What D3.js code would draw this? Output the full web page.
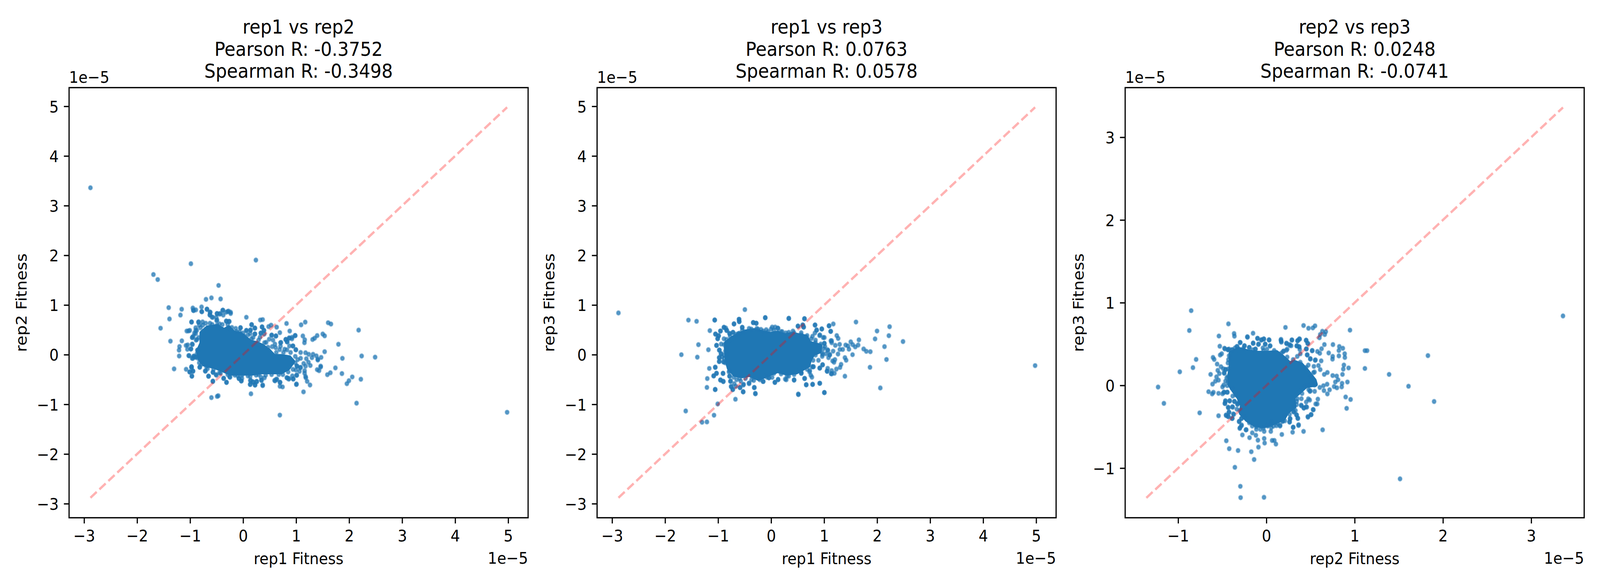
<!DOCTYPE html>
<html><head><meta charset="utf-8">
<script src="https://cdnjs.cloudflare.com/ajax/libs/d3/7.8.5/d3.min.js"></script>
<style>html,body{margin:0;padding:0;background:#fff;overflow:hidden}svg{display:block;width:100vw;height:100vh}text{font-family:"DejaVu Sans";fill:#000}</style>
</head><body><svg id="c" viewBox="0 0 4500 1500" preserveAspectRatio="none"></svg>
<script>
// All values are in units of 1e-5.
const titles = [
  ["rep1 vs rep2","Pearson R: -0.3752","Spearman R: -0.3498"],
  ["rep1 vs rep3","Pearson R: 0.0763","Spearman R: 0.0578"],
  ["rep2 vs rep3","Pearson R: 0.0248","Spearman R: -0.0741"]
];
const xLabels = ["rep1 Fitness","rep1 Fitness","rep2 Fitness"];
const yLabels = ["rep2 Fitness","rep3 Fitness","rep3 Fitness"];
const ticksWide = [-3,-2,-1,0,1,2,3,4,5];
const ticksNarrow = [-1,0,1,2,3];
const offsetLabel = "1e\u22125";
const wideDomain = [-3.283,5.376];
const narrowDomain = [-1.6,3.6];
const diagWide = [-2.88,4.98];
const diagNarrow = [-1.36,3.36];

// Individually legible points, read one by one.
const points12 = [[-2.88,3.36],[4.98,-1.16],[-1.692,1.614],[-1.611,1.512],[-.985,1.831],[.241,1.904],[-.463,1.394],[-.7,1.114],[-.598,1.143],[-.425,1.122],[-1.404,.947],[-1.159,.915],[-1.182,.798],[-1.389,.719],[-1.557,.533],[-1.371,.272],[-1.156,.279],[-.949,.939],[-.934,.887],[-.892,.902],[-.784,.96],[-.778,.863],[-.682,.918],[-.619,.855],[-.628,.798],[-.589,.756],[-.505,.75],[-.493,.824],[-.44,.816],[-.386,.894],[-.374,.798],[-.32,.855],[-.275,.876],[-.236,.855],[-.5,.685],[-.973,.656],[-.844,.654],[-.32,.677],[-.26,.667],[.061,.753],[.324,.698],[.369,.706],[.16,.604],[-.05,.541],[.22,.536],[.357,.557],[.48,.565],[.528,.594],[.633,.554],[.819,.628],[1.094,.601],[1.172,.656],[1.604,.643],[1.657,.617],[2.179,.494],[.879,.476],[1.798,.209],[.693,.444],[.22,.416],[.393,.489],[.399,.416],[.333,.436],[.139,.494],[.061,.484],[.54,.395],[.618,.376],[.98,.384],[.923,.35],[.867,.337],[.804,.306],[.834,.259],[1.127,.376],[1.163,.3],[1.157,.24],[1.31,.306],[1.349,.332],[1.397,.384],[1.502,.416],[1.538,.379],[.714,.246],[.939,.175],[.993,.102],[1.178,.039],[1.238,.007],[1.319,.007],[1.382,-.024],[1.298,-.061],[1.472,-.055],[1.538,.06],[1.873,-.074],[2.236,-.027],[2.49,-.05],[1.409,-.092],[1.409,-.108],[1.463,-.231],[1.463,-.249],[1.741,-.267],[1.646,-.364],[1.589,-.403],[1.864,-.38],[2.059,-.448],[2.221,-.495],[1.996,-.524],[1.957,-.584],[2.14,-.976],[1.397,-.301],[1.433,-.322],[1.268,-.218],[1.232,-.152],[1.193,-.082],[1.142,-.178],[1.178,-.231],[1.079,-.26],[1.013,-.231],[1.16,-.322],[1.16,-.375],[1.178,-.44],[1.184,-.466],[1.208,-.537],[1.262,-.61],[1.004,-.6],[1.139,-.749],[1.013,-.414],[.945,-.484],[.864,-.479],[.825,-.464],[.744,-.649],[.699,-.558],[.603,-.526],[.639,-.5],[.693,-1.217],[.369,-.623],[.345,-.511],[.226,-.61],[.256,-.537],[.133,-.6],[.145,-.518],[.187,-.55],[.148,-.788],[-.035,-.526],[-.08,-.479],[-.314,-.558],[-.571,-.539],[-.652,-.435],[-.598,-.864],[-.49,-.84],[-.469,-.827],[-.967,-.432],[-.946,-.333],[-1.009,-.348],[-1.075,-.294],[-.973,-.244],[-.973,-.265],[-1.302,-.286],[-.82,-.252],[-.709,-.33],[-.568,-.356],[-.514,-.401],[-.365,-.474],[-.254,-.448],[-1.209,.091],[-1.2,.164],[-1.206,-.027],[-1.027,-.019],[-1.078,.185],[-1.045,.196],[-1.051,.109],[-.985,.112],[-.955,.206],[-.949,-.074],[-.931,-.029],[-.898,-.05],[-1.063,.476],[-1.03,.478],[-1.006,.489],[-.919,.436],[-.955,.347],[-.874,.489],[-.859,.089],[-.889,.293],
[-.973,.659],[-.839,.659],[-.765,.659],[-.705,.633],[-.626,.633],[-.761,.594],[-.895,.489],[-.94,.371],[-.872,.306],[-.962,.214],[-.984,.118],[-.861,.092],[-.928,-.034],[-.962,-.073],[-.895,-.047],[-1.018,-.021],[-.492,.594],[-.391,.607],[-.313,.672],[-.268,.672],[-.212,.547],[-.139,.528],[-.049,.542],[-.067,.463],[.063,.489],[.139,.494],[.161,.602],[.224,.534],[.224,.419],[.09,.398],[.157,.319],[.336,.432],[.392,.489],[.358,.56],[.318,.351],[.436,.249],[.492,.311],[.537,.39],[.62,.377],[.564,.293],[.6,.214],[.548,.162],[.615,.141],[.705,.241],[.689,.102],[.705,.17],[.805,.306],[.873,.332],[.828,.259],[.922,.319],[.984,.385],[.873,.175],[.94,.175],[.996,.097],[1.085,.044],[1.085,-.073],[1.029,-.099],[.828,.097],[.783,.11],[1.018,-.23],[.996,-.309],[1.085,-.256],[1.063,-.335],[.929,-.427],[1.007,-.413],[.946,-.492],[.861,-.492],[.828,-.466],[.75,-.4],[.626,-.492],[.593,-.518],[.694,-.557],[.347,-.518],[.336,-.453],[.403,-.466],[.246,-.413],[.257,-.544],[.134,-.44],[.134,-.518],[.19,-.552],[-.022,-.479],[-.078,-.479],[-.033,-.531],[-.101,-.427],[-.246,-.453],[-.369,-.479],[-.313,-.557],[-.503,-.413],[-.57,-.353],[-.653,-.432],[-.716,-.33],[-.816,-.251],[-.973,-.243],[-.944,-.33],[-1.007,-.348],[-.966,-.432],[-.57,-.531],[-.425,-.374],[-.671,-.283],[.369,-.61],[.134,-.597],[.224,-.61],[1.007,-.591],[.694,-.636],[-.94,.895],[-.783,.869],[-.682,.913],[-.626,.856],[-.492,.829],[-.38,.895],[-.291,.869],[-.235,.829],[-.57,.751],[-.492,.699],[-.626,.803],[-.436,.829],
[-.895,.424],[-.839,.345],[-.895,.542],[-.805,.542],[-.962,.345],[-.828,.594],[-.582,.607],[-.447,.62],[-.291,.607],[-.123,.463],[0,.437],[.022,.371],[.134,.424],[.19,.345],[.291,.293],[.403,.241],[.47,.149],[.626,.044],[.761,.044],[.895,.044],[.984,-.034],[.984,-.165],[.94,-.296],[.85,-.348],[.671,-.4],[.537,-.4],[.425,-.413],[.291,-.4],[.09,-.427],[-.022,-.413],[-.157,-.413],[-.291,-.4],[-.447,-.361],[-.559,-.296],[-.693,-.243],[-.783,-.191],[-.828,-.165],[-.872,.018],[-.85,-.073]];

const points13 = [[-2.88,.84],[4.98,-.22],[-1.56,.696],[-1.406,.672],[-1.063,.696],[-.495,.908],[-.111,.746],[.334,.73],[.629,.722],[-.604,.712],[-.601,.665],[-.7,.618],[-.337,.646],[-.279,.633],[-.543,.549],[-.889,.549],[-.854,.536],[-.834,.489],[-1.156,.484],[-.954,.476],[-1.05,.413],[-.988,.379],[-1.008,.319],[-.721,.447],[-.782,.421],[-1.371,.201],[-1.029,.186],[-1.183,.099],[-1.693,0],[-1.392,-.05],[-.978,.092],[-.947,.018],[-.981,-.06],[-.981,-.139],[-.895,-.147],[-.923,-.047],[-1.166,-.277],[-1.053,-.256],[-1.029,-.377],[-1.084,-.426],[-.906,-.379],[-1.204,-.481],[-.954,-.51],[-.902,-.542],[-1.211,-.659],[-1.056,-.701],[-.769,-.536],[-.782,-.434],[-.755,-.636],[-.724,-.701],[-.666,-.636],[-.587,-.662],[-.519,-.596],[-.416,-.583],[-.526,-.748],[-.32,-.662],[-.296,-.788],[-.673,-.897],[-1.008,-.992],[-1.611,-1.133],[-1.077,-1.219],[-1.303,-1.36],[-1.211,-1.353],[.515,-.803],[1.005,-.764],[.663,-.607],[.783,-.599],[.92,-.576],[1.392,-.434],[2.06,-.67],[1.865,-.254],[2.176,-.097],[2.139,.162],[2.488,.264],[2.221,.382],[2.235,.563],[1.998,.476],[1.961,.317],[1.601,.657],[1.872,.06],[1.796,.068],[1.745,.115],[1.656,.298],[1.642,.194],[1.587,.157],[1.539,.201],[1.502,.259],[1.45,.175],[1.468,.11],[1.406,.194],[1.536,0],[1.392,-.06],[1.416,-.112],[1.32,-.196],[1.3,-.256],[1.231,-.29],[1.194,-.374],[1.142,-.387],[1.142,-.322],[1.057,-.335],[1.067,-.275],[1.262,.013],[1.351,.105],[1.296,.105],[1.293,.207],[1.265,.327],[1.238,.385],[1.173,.618],[1.091,.581],[1.125,.471],[.957,.515],[.858,.497],[.827,.594],[.615,.555],[.505,.576],[.594,.599],[1.142,.28],[1.142,.241],[1.211,.188],[1.17,.071],[1.187,-.152],[1.204,-.099],[1.159,-.126],[1.108,.005],[.964,-.034],[.971,-.204],[.92,-.269],[.8,-.243],[.731,-.322],[.748,-.413],[.629,-.479],[.57,-.374],[.433,-.51],[.286,-.505],[.132,-.505],[.07,-.557],[-.152,-.539],[-.039,-.466],[1.005,.345],[.92,.398],[1.005,.228],[1.067,.097],
[-1.065,.699],[-.7,.62],[-.606,.712],[-.602,.667],[-.338,.646],[-.282,.633],[-.11,.743],[.333,.73],[.629,.725],[.83,.599],[1.094,.581],[1.123,.468],[.955,.521],[.859,.494],[.508,.573],[.602,.594],[.613,.555],[.02,.555],[.076,.555],[.125,.536],[-.002,.515],[-.092,.502],[-.192,.508],[-.248,.515],[-.416,.528],[-.546,.549],[-.546,.489],[-.602,.429],[-.718,.45],[-.785,.429],[-.841,.489],[-.89,.549],[-.957,.476],[-1.049,.416],[-.993,.385],[-1.009,.327],[-.89,.319],[-1.031,.188],[-.942,.214],[-.975,.092],[-.942,.018],[-.852,.136],[-.841,.005],[-.975,-.06],[-.886,-.073],[-.975,-.134],[-.897,-.144],[-1.054,-.251],[-1.031,-.374],[-.908,-.374],[-1.083,-.427],[-.957,-.51],[-.902,-.536],[-.785,-.322],[-.785,-.432],[-.763,-.531],[-.752,-.649],[-.696,-.584],[-.651,-.505],[-.573,-.531],[-.584,-.662],[-.524,-.61],[-.416,-.57],[-.327,-.518],[-.315,-.662],[-.528,-.746],[-.723,-.701],[-.148,-.539],[-.043,-.466],[.02,-.458],[.072,-.557],[.132,-.497],[.266,-.492],[.333,-.432],[.434,-.51],[.568,-.374],[.635,-.479],[.77,-.453],[.792,-.243],[.725,-.348],[.662,-.605],[.783,-.597],[.915,-.576],[1.054,-.33],[1.132,-.38],[.971,-.204],[.915,-.27],[.893,-.113],[.971,.005],[1.034,.018],[1.105,-.008],[1.083,-.06],[1.072,.084],[1.016,.162],[1.004,.228],[1.127,.28],[.982,.345],[.915,.385],[.826,.437],[.781,.371],[.837,.293],[.568,.442],[.412,.476],[.333,.45],[.21,.463],[.132,.528],[-1.054,-.701],[1.004,-.761],[.512,-.793],[-.298,-.78],
[-.886,.201],[-.841,.306],[-.774,.371],[-.662,.411],[-.617,.424],[-.506,.463],[-.371,.515],[-.271,.528],[-.148,.476],[-.058,.463],[.054,.489],[.188,.463],[.277,.437],[.434,.437],[.568,.398],[.68,.385],[.758,.319],[.837,.241],[.937,.214],[.993,.123],[.96,.044],[.837,-.008],[.792,-.113],[.77,-.243],[.68,-.296],[.568,-.348],[.434,-.4],[.3,-.427],[.188,-.387],[.054,-.374],[-.081,-.453],[-.215,-.505],[-.371,-.505],[-.483,-.479],[-.595,-.479],[-.707,-.453],[-.796,-.348],[-.864,-.165],[-.886,-.008],[-.864,.071]];

const points23 = [[3.36,.84],[-.852,.904],[-.873,.664],[-.43,.744],[-.796,.314],[-.832,.215],[-.981,.164],[-1.227,-.02],[-1.161,-.217],[-.756,-.332],[-.542,-.367],[-.454,-.669],[-.421,-.765],[-.321,-.787],[-.357,-.99],[-.295,-1.22],[-.292,-1.357],[-.027,-1.353],[1.514,-1.13],[1.83,.36],[1.9,-.195],[1.61,-.01],[-.139,-.896],[-.171,-.802],[-.09,-.746],[-.02,-.697],[.108,-.709],[.065,-.666],[.09,-.666],[-.025,-.642],[-.096,-.662],[-.119,-.603],[-.191,-.632],[-.16,-.574],[-.272,-.599],[-.232,-.537],[-.299,-.511],[-.308,-.433],[-.281,-.478],[-.281,-.398],[-.385,-.398],[-.434,-.375],[-.457,-.357],[-.375,-.345],[-.425,-.322],[-.434,-.263],[-.385,-.258],[-.465,-.185],[-.416,-.185],[-.362,-.193],[-.47,-.219],[-.326,-.228],[-.655,-.076],[-.614,-.103],[-.6,-.084],[-.542,-.096],[-.497,-.101],[-.483,-.082],[-.443,-.082],[-.497,-.019],[-.61,.016],[-.578,.051],[-.542,.064],[-.632,.133],[-.565,.103],[-.533,.143],[-.551,.182],[-.479,.152],[-.488,.201],[-.461,.191],[-.515,.226],[-.558,.258],[-.591,.314],[-.605,.338],[-.524,.367],[-.506,.383],[-.528,.474],[-.538,.597],[-.366,.627],[-.475,.449],[-.434,.435],[-.389,.431],[-.299,.519],[-.249,.48],[-.335,.47],[-.216,.588],[-.151,.631],[-.101,.57],[-.056,.552],[-.029,.562],[.029,.552],[-.15,.513],[-.088,.5],[-.014,.5],[.043,.478],[-.194,.459],[-.124,.439],[.216,.701],[.421,.724],[.477,.691],[.526,.695],[.551,.72],[.634,.654],[.673,.65],[.661,.615],[.61,.615],[.601,.576],[.164,.547],[.169,.523],[.288,.55],[.373,.562],[.353,.541],[.45,.547],[.466,.51],[.227,.51],[.259,.494],[.281,.48],[.346,.48],[.373,.465],[.196,.416],[.227,.425],[.378,.435],[.454,.441],[.52,.422],[.578,.41],[.605,.388],[.625,.443],[.657,.494],[.754,.494],[.947,.668],[.826,.47],[.866,.449],[.821,.422],[.887,.383],[.889,.338],[.821,.357],[.706,.392],[.751,.351],[.749,.318],[.461,.371],[.497,.324],[.556,.308],[.621,.297],[1.116,.42],[1.141,.42],[1.116,.205],[1.39,.133],[.878,.246],[.931,.211],[.871,.197],[.862,.133],[.796,.113],[.751,.119],[.812,.068],[.781,.041],[.857,.025],[.918,.041],[.853,-.018],[.799,-.029],[.767,-.014],[.688,.014],[.716,-.053],[.646,-.004],[.652,-.062],[.691,-.103],[.605,-.025],[.898,-.14],[.954,-.17],[.909,-.277],[.583,-.166],[.576,-.224],[.529,-.291],[.508,-.353],[.47,-.377],[.45,-.258],[.425,-.271],[.394,-.238],[.637,-.537],[.421,-.556],[.297,-.566],[.304,-.505],[.365,-.476],[.355,-.394],[.34,-.355],[.308,-.316],[.263,-.439],[.268,-.4],[.175,-.593],[.05,-.556],[-.025,-.556],[.056,-.511],[.016,-.482],[.115,-.486],[.155,-.482],[.187,-.429],[-.068,-.531],[.655,.133],[.691,.156],[.61,.191],[.538,.23],[.475,.246],[.59,.24],[.493,-.072],[.547,-.072],[.475,-.163],
[-.47,.442],[-.436,.43],[-.387,.43],[-.423,.359],[-.436,.272],[-.463,.193],[-.477,.146],[-.45,.091],[-.463,.052],[-.483,.005],[-.443,-.003],[-.477,-.082],[-.443,-.082],[-.382,-.129],[-.463,-.192],[-.416,-.188],[-.362,-.195],[-.47,-.216],[-.329,-.224],[-.43,-.271],[-.382,-.263],[-.335,-.287],[-.423,-.326],[-.456,-.365],[-.43,-.378],[-.369,-.35],[-.389,-.4],[-.309,-.439],[-.282,-.4],[-.282,-.488],[-.302,-.52],[-.228,-.536],[-.161,-.491],[-.114,-.531],[.014,-.491],[.081,-.491],[.155,-.491],[.061,-.436],[.182,-.436],[.209,-.365],[.31,-.321],[.343,-.358],[.357,-.4],[.263,-.444],[.303,-.507],[.364,-.484],[.269,-.405],[.397,-.247],[.458,-.263],[.424,-.274],[.343,-.232],[.316,-.255],[.532,-.295],[.505,-.354],[.471,-.384],[.558,-.224],[.491,-.177],[.451,-.2],[.397,-.161],[.35,-.161],[.437,-.003],[.478,-.003],[.498,-.066],[.545,.162],[.532,.154],[.498,.319],[.464,.367],[.518,.419],[.552,.304],[.451,.441],[.384,.382],[.35,.351],[.37,.469],[.343,.477],[.451,.543],[.471,.505],[.377,.56],[.354,.54],[.29,.548],[.269,.485],[.229,.505],[.236,.438],[.189,.409],[.169,.532],[.166,.556],[.041,.477],[.032,.548],[-.013,.497],[-.029,.56],[-.057,.548],[-.091,.496],[-.1,.567],[-.15,.508],[-.214,.582],[-.248,.477],[-.295,.519],[-.329,.469],[-.194,.458],[-.124,.438],[-.04,.453],[.007,.438],[-.362,.595],
[-.423,.438],[-.43,.312],[-.43,.201],[-.436,.107],[-.436,.044],[-.389,-.035],[-.349,-.114],[-.315,-.208],[-.302,-.303],[-.248,-.381],[-.194,-.452],[-.114,-.499],[-.033,-.515],[.048,-.476],[.128,-.46],[.209,-.428],[.263,-.35],[.33,-.303],[.343,-.192],[.404,-.098],[.478,-.051],[.545,.005],[.505,.107],[.451,.217],[.384,.28],[.303,.312],[.236,.343],[.169,.39],[.088,.422],[-.033,.422],[-.154,.43],[-.262,.445],[-.356,.453]];

// The middle of each cloud is saturated overplotting: single points there cannot be read,
// so it is drawn as a filled region along an outline.
const core12 = [[-.85,.071],[-.783,.228],[-.783,.437],[-.671,.542],[-.492,.568],[-.358,.489],[-.268,.542],[-.179,.437],[-.045,.411],[.045,.332],[.134,.254],[.246,.228],[.358,.175],[.492,.071],[.582,-.034],[.716,-.034],[.873,-.06],[.94,-.139],[.85,-.27],[.716,-.348],[.537,-.348],[.358,-.348],[.179,-.374],[-.045,-.374],[-.246,-.374],[-.403,-.296],[-.537,-.243],[-.738,-.191],[-.816,-.086]];
const core13 = [[-.841,-.008],[-.852,.228],[-.729,.332],[-.595,.411],[-.461,.463],[-.304,.489],[-.148,.437],[-.013,.411],[.121,.437],[.255,.385],[.389,.411],[.523,.385],[.658,.358],[.725,.228],[.926,.175],[.915,.071],[.792,.018],[.725,-.113],[.702,-.217],[.568,-.296],[.479,-.348],[.3,-.374],[.121,-.322],[-.058,-.4],[-.237,-.479],[-.416,-.4],[-.55,-.427],[-.685,-.4],[-.796,-.27],[-.83,-.139]];
const core23 = [[-.403,.233],[-.403,.39],[-.315,.438],[-.208,.406],[-.1,.39],[.021,.39],[.115,.398],[.182,.343],[.263,.264],[.316,.28],[.397,.249],[.464,.17],[.545,.06],[.558,.012],[.451,-.003],[.37,-.082],[.303,-.145],[.316,-.255],[.236,-.318],[.195,-.397],[.101,-.444],[-.033,-.491],[-.127,-.476],[-.221,-.413],[-.288,-.334],[-.275,-.24],[-.315,-.145],[-.369,-.066],[-.416,.012],[-.416,.138]];

const panels = [
  {left:194.3, points:points12, core:core12, xDom:wideDomain, yDom:wideDomain, xTicks:ticksWide, yTicks:ticksWide, diag:diagWide, ylabX:75},
  {left:1679.3, points:points13, core:core13, xDom:wideDomain, yDom:wideDomain, xTicks:ticksWide, yTicks:ticksWide, diag:diagWide, ylabX:1559},
  {left:3164.5, points:points23, core:core23, xDom:narrowDomain, yDom:narrowDomain, xTicks:ticksNarrow, yTicks:ticksNarrow, diag:diagNarrow, ylabX:3048}
];
const panelW = 1291, plotTop = 224.3, plotBottom = 1325.3;
const fmt = v => (v<0 ? "\u2212" : "") + Math.abs(v);
const blue = "#1f77b4";
const svg = d3.select("#c");

panels.forEach((p,i)=>{
  const x = d3.scaleLinear().domain(p.xDom).range([p.left,p.left+panelW]);
  const y = d3.scaleLinear().domain(p.yDom).range([plotBottom,plotTop]);
  const g = svg.append("g");

  const coreLine = d3.line().x(d=>x(d[0])).y(d=>y(d[1])).curve(d3.curveLinearClosed);
  g.append("path").attr("d",coreLine(p.core)).attr("fill",blue).attr("stroke",blue)
    .attr("stroke-width",12).attr("stroke-linejoin","round");

  g.selectAll("circle.pt").data(p.points).join("circle").attr("class","pt")
    .attr("cx",d=>x(d[0])).attr("cy",d=>y(d[1])).attr("r",4.1)
    .attr("fill",blue).attr("fill-opacity",.6)
    .attr("stroke",blue).attr("stroke-opacity",.6).attr("stroke-width",5.2);

  g.append("line").attr("x1",x(p.diag[0])).attr("y1",y(p.diag[0]))
    .attr("x2",x(p.diag[1])).attr("y2",y(p.diag[1]))
    .attr("stroke","#f00").attr("stroke-opacity",.3).attr("stroke-width",6.25)
    .attr("stroke-dasharray","23.1 10");

  const xAxis = d3.axisBottom(x).tickValues(p.xTicks).tickFormat(fmt).tickSize(14.6).tickSizeOuter(0);
  const yAxis = d3.axisLeft(y).tickValues(p.yTicks).tickFormat(fmt).tickSize(14.6).tickSizeOuter(0);
  const gx = g.append("g").attr("transform",`translate(0,${plotBottom})`).call(xAxis);
  const gy = g.append("g").attr("transform",`translate(${p.left},0)`).call(yAxis);
  [gx,gy].forEach(a=>{
    a.attr("font-family",null).attr("font-size",null);
    a.select(".domain").remove();
    a.selectAll(".tick line").attr("stroke","#000").attr("stroke-width",3.33);
    a.selectAll(".tick text").attr("font-size",41.67).attr("fill","#000");
  });
  gx.selectAll(".tick text").attr("dy",null).attr("y",61);
  gy.selectAll(".tick text").attr("dy",null).attr("x",-29.2).attr("y",15);

  g.append("rect").attr("x",p.left).attr("y",plotTop).attr("width",panelW).attr("height",plotBottom-plotTop)
    .attr("fill","none").attr("stroke","#000").attr("stroke-width",3.33);

  titles[i].forEach((t,j)=>g.append("text").text(t).attr("x",p.left+panelW/2).attr("y",86+j*56.6)
    .attr("text-anchor","middle").attr("font-size",50));
  g.append("text").text(xLabels[i]).attr("x",p.left+panelW/2).attr("y",1444)
    .attr("text-anchor","middle").attr("font-size",41.67);
  g.append("text").text(yLabels[i]).attr("transform",`translate(${p.ylabX},${(plotTop+plotBottom)/2}) rotate(-90)`)
    .attr("text-anchor","middle").attr("font-size",41.67);
  g.append("text").text(offsetLabel).attr("x",p.left+panelW).attr("y",1443)
    .attr("text-anchor","end").attr("font-size",41.67);
  g.append("text").text(offsetLabel).attr("x",p.left).attr("y",212)
    .attr("text-anchor","start").attr("font-size",41.67);
});
</script></body></html>
